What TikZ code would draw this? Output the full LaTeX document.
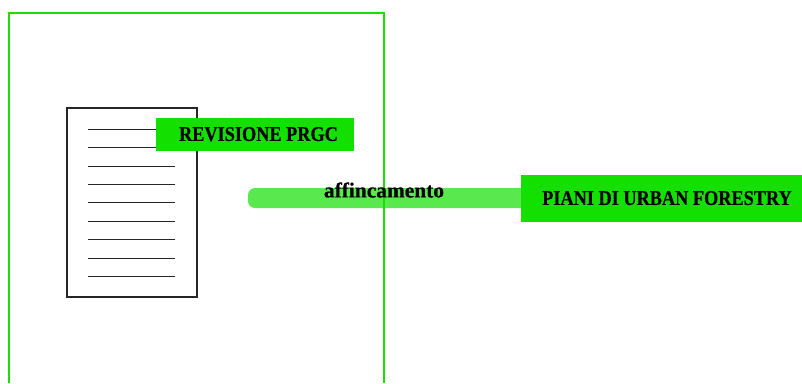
\documentclass[tikz,border=0pt]{standalone}
\usepackage{fontspec}
\setmainfont[BoldFeatures={FakeBold=0.4}]{Liberation Serif}
\newfontfamily\labelfont[FakeStretch=0.87,BoldFont={Liberation Serif Bold},BoldFeatures={FakeStretch=0.87,FakeBold=0.4}]{Liberation Serif}
\tikzset{
  x=1pt,y=-1pt,
  labelbox/.style={fill=boxgreen,inner sep=0pt,font=\labelfont\bfseries\fontsize{21}{24}\selectfont},
  docline/.style={line width=0.9pt,black!85}
}
\definecolor{boxgreen}{HTML}{14E000}
\definecolor{barlight}{HTML}{5AE84F}
\definecolor{framegreen}{HTML}{18E005}
\begin{document}
\begin{tikzpicture}
  \useasboundingbox (0,0) rectangle (802,383);

  \node[fill=barlight,rounded corners=7pt,inner sep=0pt,minimum width=290,minimum height=20] (bar) at (393,198) {};
  \draw[framegreen,line width=2pt] (9,383)--(9,12.5)--(384.3,12.5)--(384.3,383);

  \draw[line width=2pt,black!85] (67,108) rectangle (197,297);
  \foreach \y in {0,...,8}
    \draw[docline] (88,129.5+18.35*\y)--(175,129.5+18.35*\y);

  \node[labelbox,minimum width=198,minimum height=33] (revisione) at (255,134.5) {\hspace{7pt}\raisebox{1pt}{REVISIONE PRGC}};
  \node[labelbox,minimum width=281,minimum height=47] (piani) at (661.5,198.5) {\hspace{11pt}\raisebox{1pt}{PIANI DI URBAN FORESTRY}};
  \node[inner sep=0pt,font=\bfseries\fontsize{21.4}{24}\selectfont] (affincamento) at (384,190) {affincamento};
\end{tikzpicture}
\end{document}
